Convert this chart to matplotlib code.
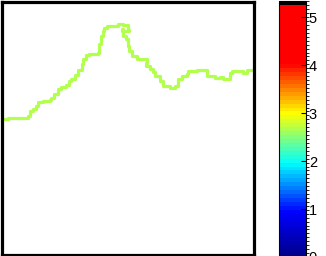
import numpy as np
import matplotlib
matplotlib.use('Agg')
import matplotlib.pyplot as plt
from matplotlib.colors import ListedColormap, BoundaryNorm, LinearSegmentedColormap
import matplotlib.colorbar as mcolorbar

plt.rcParams['font.family'] = ['Liberation Sans', 'DejaVu Sans']

# traced path (x to the right, y downward like image rows)
path_x = [0, 7, 25, 27, 29, 32, 35, 37, 42, 49, 50, 53, 57, 60, 65, 68, 70, 74, 77,
          81, 82, 85, 88, 97, 98, 100, 102, 103, 106, 113, 117, 122, 127, 128, 129,
          121, 122, 125, 128, 127, 129, 132, 137, 143, 147, 146, 150, 153, 155, 160,
          163, 170, 175, 178, 178, 182, 187, 188, 197, 206, 207, 215, 220, 223, 227,
          230, 232, 240, 243, 247, 255]
path_y = [118, 117, 117, 115, 110, 108, 105, 101, 100, 99, 97, 93, 88, 86, 84, 80, 78,
          74, 69, 63, 58, 54, 53, 52, 43, 35, 30, 27, 25, 25, 23, 24, 26, 29, 30,
          28, 35, 38, 42, 45, 50, 55, 58, 58, 62, 65, 68, 71, 75, 80,
          85, 87, 85, 83, 78, 75, 73, 70, 69, 69, 75, 77, 76, 78, 78,
          72, 70, 70, 72, 69, 69]
line_color = '#b2ff4e'

cbar_max = 5.34
cbar_top = 5.25
cbar_ticks = [0, 1, 2, 3, 4, 5]
# colour stops of the scale (value, colour)
stop_vals = [0, 0.9, 1.95, 3.0, 4.05, 5.25]
stop_cols = [(0, 0, 0.55), (0, 0, 1), (0, 1, 1), (1, 1, 0), (1, 0, 0), (1, 0, 0)]

fig = plt.figure(figsize=(3.26, 2.56), dpi=100)

ax = fig.add_axes([1.5 / 326, 1.5 / 256, 253 / 326, 253 / 256])
ax.step(path_x, path_y, where='post', color=line_color, lw=2.3)
ax.set_xlim(0, 255)
ax.set_ylim(255, 0)
ax.set_xticks([])
ax.set_yticks([])
for s in ax.spines.values():
    s.set_linewidth(2.3)

base = LinearSegmentedColormap.from_list(
    'scale', list(zip(np.array(stop_vals) / cbar_top, stop_cols)))
colors = list(base(np.linspace(0, 1, 64)))
colors.append((0, 0, 0, 1))
cmap = ListedColormap(colors)
bounds = list(np.linspace(0, cbar_top, 65)) + [cbar_max]
norm = BoundaryNorm(bounds, cmap.N)

cax = fig.add_axes([279 / 326, -1 / 256, 27 / 326, 256 / 256])
cb = mcolorbar.ColorbarBase(cax, cmap=cmap, norm=norm, boundaries=bounds,
                            ticks=cbar_ticks, spacing='proportional')
cb.outline.set_linewidth(0.8)
cax.tick_params(axis='y', direction='in', length=3.5, width=0.8,
                labelsize=10.5, pad=2)
cax.set_yticklabels([str(t) for t in cbar_ticks])

fig.savefig('out.png', dpi=100)
